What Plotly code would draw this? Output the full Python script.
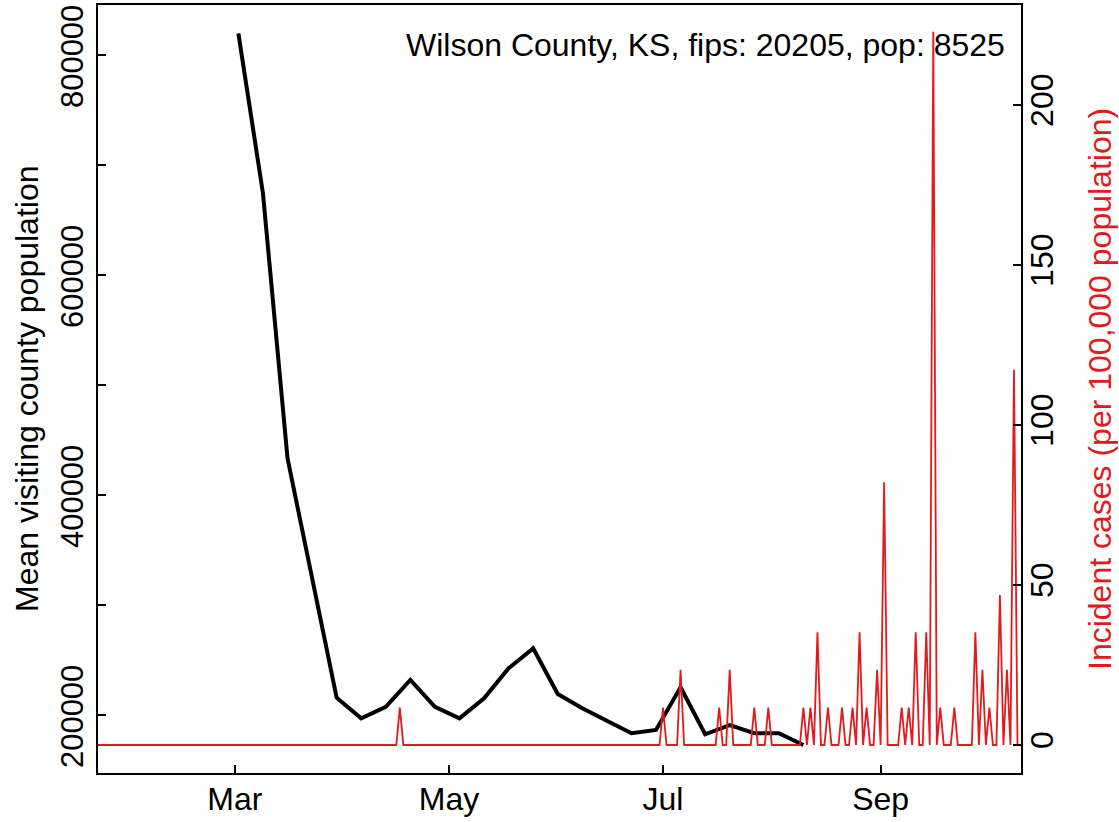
import pandas as pd
import plotly.graph_objects as go

# weekly mean population of the counties visited (left axis)
visit_dates = ['2020-03-02', '2020-03-09', '2020-03-16', '2020-03-23', '2020-03-30',
               '2020-04-06', '2020-04-13', '2020-04-20', '2020-04-27', '2020-05-04',
               '2020-05-11', '2020-05-18', '2020-05-25', '2020-06-01', '2020-06-08',
               '2020-06-15', '2020-06-22', '2020-06-29', '2020-07-06', '2020-07-13',
               '2020-07-20', '2020-07-27', '2020-08-03', '2020-08-10']
visit_pop = [819700, 674300, 433400, 325500, 215700,
             197000, 207500, 231800, 207500, 197000,
             215200, 242500, 260600, 219100, 206100,
             194800, 183400, 186400, 225200, 182500,
             190900, 183400, 183400, 172700]

# daily incident cases per 100k (right axis) - days not listed are 0
case_start = '2020-01-22'
case_end = '2020-10-11'
spike_dates = ['2020-04-17', '2020-07-01', '2020-07-06', '2020-07-17', '2020-07-20',
               '2020-07-27', '2020-07-31', '2020-08-10', '2020-08-12', '2020-08-14',
               '2020-08-17', '2020-08-21', '2020-08-24', '2020-08-26', '2020-08-28',
               '2020-08-31', '2020-09-02', '2020-09-07', '2020-09-09', '2020-09-11',
               '2020-09-14', '2020-09-16', '2020-09-18', '2020-09-22', '2020-09-28',
               '2020-09-30', '2020-10-02', '2020-10-05', '2020-10-07', '2020-10-09']
spike_rates = [11.7, 11.7, 23.5, 11.7, 23.5,
               11.7, 11.7, 11.7, 11.7, 35.2,
               11.7, 11.7, 11.7, 35.2, 11.7,
               23.5, 82.1, 11.7, 11.7, 35.2,
               35.2, 222.9, 11.7, 11.7, 35.2,
               23.5, 11.7, 46.9, 23.5, 117.3]

month_ticks = ['2020-03-01', '2020-05-01', '2020-07-01', '2020-09-01']
month_labels = ['Mar', 'May', 'Jul', 'Sep']

title_text = 'Wilson County, KS, fips: 20205, pop: 8525'

days = pd.date_range(case_start, case_end, freq='D')
cases = pd.Series(0.0, index=days)
cases.loc[pd.to_datetime(spike_dates)] = spike_rates

RED = '#E31A1C'
FONT = 'Liberation Sans, Arial, sans-serif'
FS = 32

fig = go.Figure()
fig.add_trace(go.Scatter(x=pd.to_datetime(visit_dates), y=visit_pop, mode='lines',
                         line=dict(color='black', width=4), yaxis='y'))
fig.add_trace(go.Scatter(x=cases.index, y=cases.values, mode='lines',
                         line=dict(color=RED, width=1.8), yaxis='y2'))

axis_common = dict(showgrid=False, zeroline=False, showline=True, linecolor='black',
                   linewidth=1.5, ticks='inside', ticklen=8, tickwidth=1.5,
                   tickcolor='black', automargin=False, ticklabeloverflow='allow')

fig.update_layout(
    width=1119, height=822,
    margin=dict(l=98, r=98, t=5, b=49),
    plot_bgcolor='white', paper_bgcolor='white',
    showlegend=False,
    font=dict(family=FONT, color='black'),
    xaxis=dict(range=[case_start, case_end], tickvals=month_ticks, ticktext=month_labels,
               mirror=True, ticklabelstandoff=-3,
               tickfont=dict(size=FS, color='black', family=FONT), **axis_common),
    yaxis=dict(range=[147270, 845450], tick0=0, dtick=200000, tickangle=-90,
               tickformat='d',
               minor=dict(dtick=100000, ticks='inside', ticklen=8, tickwidth=1.5,
                          tickcolor='black'),
               ticklabelstandoff=1, ticklabelshift=6,
               tickfont=dict(size=31, color='black', family=FONT), **axis_common),
    yaxis2=dict(range=[-8.75, 231.25], tick0=0, dtick=50, tickangle=-90,
                overlaying='y', side='right', ticklabelstandoff=-8,
                tickfont=dict(size=FS, color='black', family=FONT), **axis_common),
    annotations=[
        dict(text=title_text, x=0.985, y=0.948, xref='paper', yref='paper',
             xanchor='right', yanchor='middle', showarrow=False,
             font=dict(size=FS, color='black', family=FONT)),
        dict(text='Mean visiting county population', x=27, y=389, xref='paper',
             yref='paper', showarrow=False, textangle=-90,
             xanchor='center', yanchor='middle',
             font=dict(size=FS, color='black', family=FONT)),
        dict(text='Incident cases (per 100,000 population)', x=1100, y=389,
             xref='paper', yref='paper', showarrow=False, textangle=-90,
             xanchor='center', yanchor='middle',
             font=dict(size=FS, color=RED, family=FONT)),
    ],
)

# axis titles placed in pixel terms -> convert to paper coords
pw, ph = 1119 - 98 - 98, 822 - 5 - 49
for a in fig.layout.annotations[1:]:
    a.x = (a.x - 98) / pw
    a.y = (822 - 49 - a.y) / ph

# page body has a default margin that shifts the figure; drop it
fig.write_html("out.html", config={'displayModeBar': False},
               post_script="document.body.style.margin='0';")
